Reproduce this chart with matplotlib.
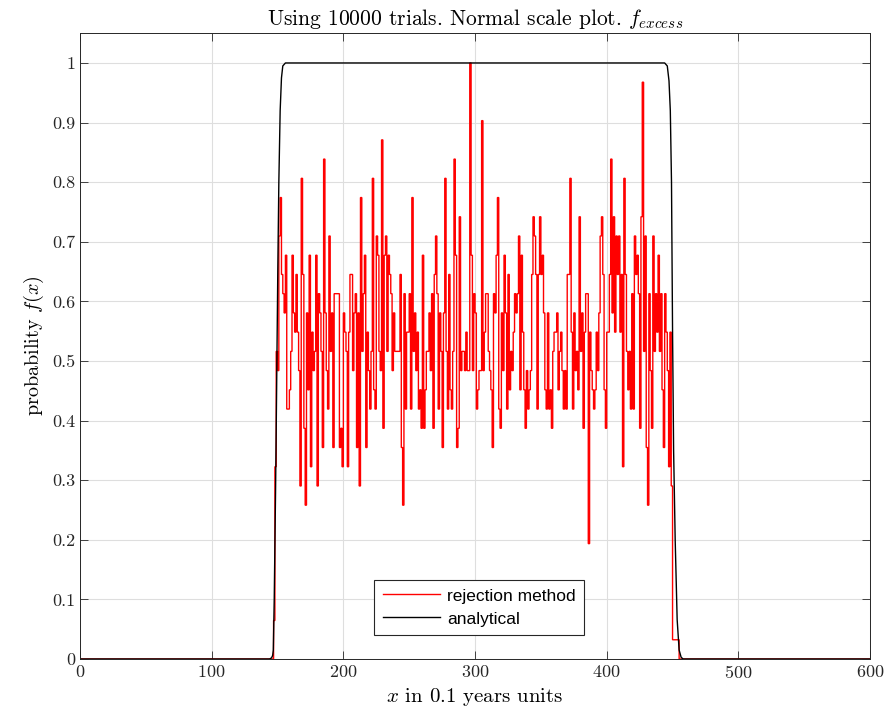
import numpy as np
import matplotlib.pyplot as plt

plt.rcParams['font.family'] = 'serif'
plt.rcParams['font.serif'] = ['cmr10', 'DejaVu Serif']
plt.rcParams['mathtext.fontset'] = 'cm'
plt.rcParams['axes.formatter.use_mathtext'] = True

# rejection method histogram, counts in units of 1/31, one bin per x unit starting at x=147
start_bin = 147
counts = [
    2, 10,
    # 149 - 195
    16, 15, 22, 24, 20, 19, 18, 21, 13, 13, 14, 16, 21, 18, 17, 20, 17, 15, 9, 25,
    20, 12, 8, 18, 14, 21, 10, 17, 15, 16, 21, 9, 19, 18, 16, 11, 26, 18, 15, 13,
    22, 16, 18, 11, 19, 19, 19,
    # 196 - 249
    19, 11, 12, 10, 18, 17, 16, 10, 17, 20, 20, 15, 18, 19, 11, 18, 9, 24, 16, 19,
    21, 11, 17, 15, 13, 16, 25, 14, 13, 22, 21, 16, 15, 27, 12, 21, 22, 16, 21, 20,
    19, 15, 18, 16, 16, 16, 16, 20, 11, 8, 19, 13, 17, 17,
    # 250 - 302
    19, 13, 24, 16, 18, 15, 17, 13, 14, 12, 21, 12, 14, 16, 16, 18, 15, 19, 12, 20,
    22, 19, 13, 18, 16, 11, 18, 25, 16, 13, 20, 14, 13, 16, 26, 21, 11, 12, 23, 15,
    16, 16, 15, 17, 15, 15, 31, 21, 15, 19, 18, 13, 14,
    # 303 - 354
    15, 15, 28, 15, 17, 19, 19, 16, 15, 14, 11, 19, 18, 21, 24, 13, 12, 18, 15, 21,
    18, 13, 20, 14, 16, 15, 17, 19, 18, 19, 22, 14, 21, 17, 14, 12, 15, 13, 14, 15,
    20, 23, 22, 20, 13, 20, 23, 20, 21, 18, 14, 13,
    # 355 - 408
    18, 13, 14, 12, 16, 17, 17, 18, 14, 16, 17, 15, 13, 15, 13, 20, 20, 25, 17, 13,
    18, 15, 16, 14, 23, 16, 18, 12, 17, 19, 19, 6, 17, 15, 14, 13, 14, 17, 15, 18,
    22, 23, 20, 14, 12, 17, 17, 20, 26, 18, 23, 17, 22, 20,
    # 409 - 449
    22, 17, 20, 10, 25, 20, 16, 14, 16, 13, 19, 13, 22, 20, 21, 19, 12, 23, 30, 16,
    22, 11, 8, 19, 15, 12, 22, 16, 19, 17, 21, 16, 19, 14, 11, 19, 17, 15, 10, 17, 9,
    # 450 - 454
    1, 1, 1, 1, 1,
]
n_levels = 31

# analytical curve
ana_x = [0, 144, 145.5, 146.3, 146.8, 147.5, 148.5, 149.3, 150.2, 151, 152, 153, 154, 156,
         444, 446, 447.3, 448.3, 449.2, 450, 450.8, 452, 453.5, 455, 456.5, 458, 600]
ana_y = [0, 0, 0.002, 0.006, 0.015, 0.1, 0.28, 0.45, 0.65, 0.8, 0.92, 0.975, 0.995, 1.0,
         1.0, 0.995, 0.97, 0.92, 0.8, 0.55, 0.35, 0.2, 0.066, 0.015, 0.003, 0, 0]

x_edges = np.arange(0, 601)
rej = np.zeros(600)
rej[start_bin:start_bin + len(counts)] = np.array(counts) / n_levels

fig = plt.figure(figsize=(8.89, 7.21), dpi=100)
ax = fig.add_axes([0.09, 0.086, 0.8887, 0.868])

ax.stairs(rej, x_edges, color='#ff0000', linewidth=1.0, label='rejection method')
ax.plot(ana_x, ana_y, color='black', linewidth=1.0, label='analytical')

ax.set_xlim(0, 600)
ax.set_ylim(0, 1.05)
ax.set_xticks(np.arange(0, 601, 100))
yt = np.round(np.arange(0, 1.01, 0.1), 1)
ax.set_yticks(yt)
ax.set_yticklabels([f'{v:g}' for v in yt])
ax.tick_params(direction='in', top=True, right=True, labelsize=13, length=6, width=0.6,
               colors='#262626', labelcolor='#262626')
ax.grid(True, color='#dedede', linewidth=0.8)
ax.set_axisbelow(True)
for s in ax.spines.values():
    s.set_linewidth(0.7)
    s.set_color('#262626')

ax.set_title('Using 10000 trials. Normal scale plot. $f_{excess}$', fontsize=15.5, pad=6)
ax.set_xlabel('$x$ in 0.1 years units', fontsize=15)
ax.set_ylabel('probability $f(x)$', fontsize=14.5)

leg = ax.legend(loc='lower left', bbox_to_anchor=(0.372, 0.038), fancybox=False,
                framealpha=1, edgecolor='#262626', handlelength=3.3,
                prop={'family': 'Liberation Sans', 'size': 12.5}, borderpad=0.5,
                labelspacing=0.45, handletextpad=0.4, borderaxespad=0)
leg.get_frame().set_linewidth(0.8)

fig.savefig('out.png', dpi=100)
